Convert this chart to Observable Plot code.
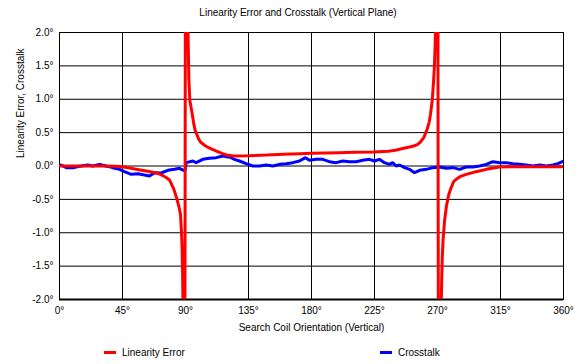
<!DOCTYPE html>
<html>
<head>
<meta charset="utf-8">
<script src="https://cdn.jsdelivr.net/npm/d3@7"></script>
<script src="https://cdn.jsdelivr.net/npm/@observablehq/plot@0.6"></script>
<style>
  html, body { margin: 0; padding: 0; background: #fff; }
  body { width: 588px; height: 364px; overflow: hidden; font-family: "Liberation Sans", Arial, sans-serif; }
  #title { height: 22px; padding-top: 2px; line-height: 22px; font-size: 10px; text-align: center; padding-left: 8px; box-sizing: border-box; color: #000; }
  #legend { position: relative; height: 22px; font-size: 10px; color: #000; }
  .item { position: absolute; top: 5px; display: flex; align-items: center; }
  .sw { display: inline-block; width: 12px; height: 3px; margin-right: 6px; }
</style>
</head>
<body>
<div id="title">Linearity Error and Crosstalk (Vertical Plane)</div>
<div id="chart"></div>
<div id="legend"></div>
<script>
// Angles (deg) and linearity error values (deg)
const linAngles = [0, 10, 20, 30, 40, 45, 50, 56.7, 62, 68.6, 72, 75.7, 78.6, 79.5, 81.7, 83.6, 85.2, 86.4, 87.1, 87.6, 87.9, 88.3, 88.8, 89.5,
  90, 90.7, 91.2, 91.8, 92.4, 93.1, 93.8, 94.8, 96, 97.1, 99.5, 100.7, 104.3, 108, 112.6, 116, 120, 125, 135, 148, 160, 172, 180, 190, 200, 210,
  224.5, 235, 240, 243.6, 250, 253, 255.5, 257.9, 260.2, 262.6, 264, 265, 266.2, 267.4, 267.9, 268.6, 269.3, 270.2,
  270.7, 271.5, 272.3, 273, 273.4, 274, 275, 276.4, 278, 279.3, 281.6, 284, 286, 290.5, 297.6, 304.8, 314.3, 330, 345, 360];
const linValues = [0, 0, 0, 0, -0.005, -0.01, -0.03, -0.055, -0.075, -0.1, -0.125, -0.165, -0.21, -0.25, -0.35, -0.475, -0.6, -0.72, -0.975, -1.25, -1.58, -2.2, -3, -4,
  4, 2.6, 3.2, 2.0, 1.3, 0.98, 0.9, 0.78, 0.62, 0.52, 0.4, 0.36, 0.3, 0.26, 0.22, 0.19, 0.16, 0.15, 0.155, 0.165, 0.175, 0.185, 0.19, 0.195, 0.2, 0.205,
  0.21, 0.22, 0.235, 0.255, 0.285, 0.3, 0.32, 0.36, 0.425, 0.55, 0.65, 0.775, 0.975, 1.33, 1.55, 2.0, 3, 4,
  -4, -4, -2.5, -1.7, -1.38, -1.1, -0.83, -0.6, -0.43, -0.35, -0.23, -0.19, -0.16, -0.125, -0.085, -0.05, -0.015, -0.01, -0.01, -0.01];

// Angles (deg) and crosstalk values (deg)
const xtAngles = [0, 1.2, 4.8, 9.5, 14.3, 20.2, 23.8, 28.6, 33.3, 38, 42.9, 46.4, 51.2, 56, 60.7, 64.3, 67.9, 72.6, 77.4, 82.1, 85.7, 88.6, 89.8,
  90.5, 95.2, 97.6, 102.4, 107.1, 111.9, 116.7, 120.2, 121.4, 125, 128.6, 133.3, 138, 142.9, 147.6, 152.4, 157.1, 161.9, 166.6, 171.4, 175.7, 178.5,
  183.3, 188, 192.8, 197.6, 202.4, 207.1, 211.9, 216.6, 221.4, 225, 228.5, 232.1, 235.7, 238, 240.4, 242.9, 246.5, 250, 253.6, 257.2, 262, 266.7,
  271.5, 276.2, 281, 285.8, 290.5, 295.3, 300, 304.8, 309.5, 314.3, 319.1, 323.9, 328.6, 333.4, 338.1, 342.9, 347.7, 352.4, 356, 360];
const xtValues = [0.01, 0.015, -0.025, -0.025, -0.005, 0.015, 0, 0.025, 0, -0.025, -0.05, -0.085, -0.125, -0.115, -0.135, -0.15, -0.1, -0.105, -0.065, -0.05, -0.035, -0.065, -0.06,
  0.05, 0.075, 0.05, 0.1, 0.115, 0.125, 0.15, 0.135, 0.135, 0.1, 0.075, 0.035, 0, 0, 0.015, 0, 0.025, 0.035, 0.05, 0.075, 0.125, 0.085,
  0.1, 0.1, 0.065, 0.05, 0.075, 0.065, 0.065, 0.085, 0.1, 0.075, 0.1, 0.05, 0.025, 0.05, 0, 0.015, -0.025, -0.05, -0.1, -0.065, -0.05, -0.025,
  -0.015, -0.035, -0.025, -0.05, -0.015, -0.015, 0, 0.025, 0.065, 0.05, 0.05, 0.035, 0.025, 0.015, 0, 0.015, 0, 0.015, 0.035, 0.075];

const xTicks = [0, 45, 90, 135, 180, 225, 270, 315, 360];
const yTicks = [-2, -1.5, -1, -0.5, 0, 0.5, 1, 1.5, 2];
const seriesNames = ["Linearity Error", "Crosstalk"];
const seriesColors = ["#ff0000", "#0000ff"];

const lin = linAngles.map((a, i) => ({angle: a, value: linValues[i]}));
const xt = xtAngles.map((a, i) => ({angle: a, value: xtValues[i]}));

const font = "Liberation Sans, Arial, sans-serif";
const chart = Plot.plot({
  width: 588,
  height: 320,
  marginLeft: 59,
  marginRight: 25,
  marginTop: 10,
  marginBottom: 43,
  style: {fontFamily: font, fontSize: "10px", color: "#000", background: "#fff"},
  x: {domain: [0, 360]},
  y: {domain: [-2, 2]},
  marks: [
    Plot.gridX(xTicks, {stroke: "#000", strokeOpacity: 1, strokeWidth: 1}),
    Plot.gridY(yTicks, {stroke: "#000", strokeOpacity: 1, strokeWidth: 1}),
    Plot.frame({stroke: "#000"}),
    Plot.ruleY([-2], {stroke: "#000", strokeWidth: 2}),
    Plot.axisX(xTicks, {tickSize: 0, tickPadding: 7, tickFormat: d => d + "°", label: null, fill: "#000"}),
    Plot.axisY(yTicks, {tickSize: 0, tickPadding: 6, tickFormat: d => d.toFixed(1) + "°", label: null, fill: "#000"}),
    Plot.text(["Search Coil Orientation (Vertical)"], {frameAnchor: "bottom", dy: 31, fill: "#000"}),
    Plot.text(["Linearity Error, Crosstalk"], {frameAnchor: "left", dx: -39, dy: -8, rotate: -90, fill: "#000"}),
    Plot.line(xt, {x: "angle", y: "value", stroke: seriesColors[1], strokeWidth: 3, clip: true, strokeLinejoin: "miter"}),
    Plot.line(lin, {x: "angle", y: "value", stroke: seriesColors[0], strokeWidth: 3, clip: true, strokeLinejoin: "miter"})
  ]
});
document.getElementById("chart").appendChild(chart);

const legend = document.getElementById("legend");
const legendLefts = [104, 380];
seriesNames.forEach((name, i) => {
  const it = document.createElement("div");
  it.className = "item";
  it.style.left = legendLefts[i] + "px";
  const sw = document.createElement("span");
  sw.className = "sw";
  sw.style.background = seriesColors[i];
  it.appendChild(sw);
  it.appendChild(document.createTextNode(name));
  legend.appendChild(it);
});
</script>
</body>
</html>
